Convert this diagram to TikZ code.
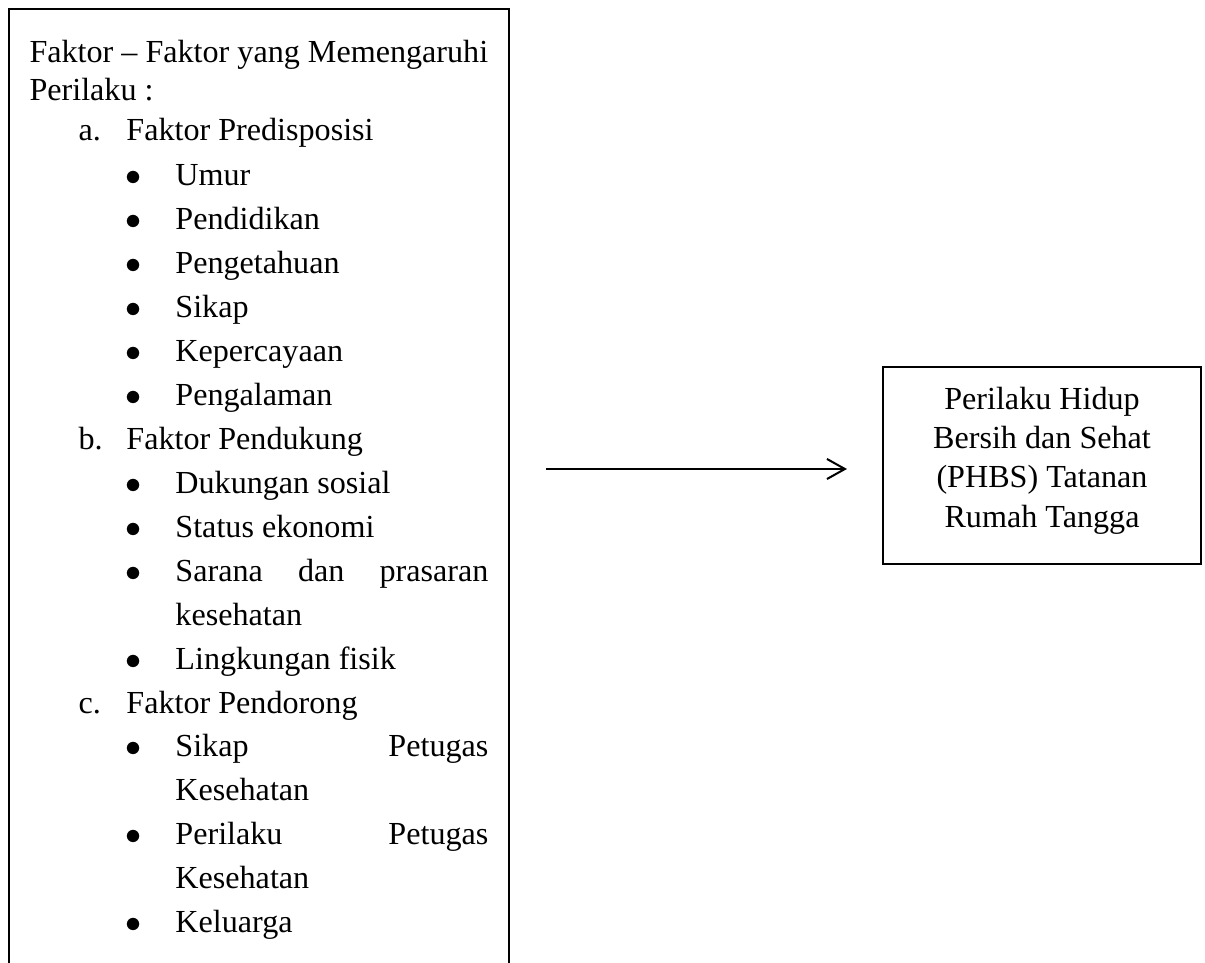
\documentclass[tikz,border=0pt]{standalone}
\usepackage{fontspec}
\setmainfont{Liberation Serif}
\usetikzlibrary{positioning, fit, arrows.meta, calc}

% list layout helpers
\newcommand{\subfaktor}[2]{\hspace*{18.3pt}\makebox[17.9pt][l]{#1}#2}
\newcommand{\butir}[1]{\hspace*{35.8pt}\makebox[6pt]{$\bullet$}\hspace*{12.7pt}#1}
\newcommand{\lanjut}[1]{\hspace*{54.5pt}#1}
\newcommand{\rata}[1]{\makebox[116.9pt][s]{#1}}

\begin{document}
\begin{tikzpicture}[
    x=0.3735pt,
    y=-0.3735pt,
    frame/.style={
        rectangle,
        draw,
        line width=0.65pt,
        inner sep=0pt
    },
    listtext/.style={
        text width=185pt,
        align=flush left,
        inner sep=0pt,
        font=\fontsize{12}{16.43}\selectfont
    },
    result/.style={
        rectangle,
        draw,
        line width=0.7pt,
        minimum width=118.8pt,
        minimum height=73.6pt,
        align=center,
        font=\fontsize{12}{14.7}\selectfont
    },
    arrow/.style={
        -{Straight Barb[length=6.7pt, width=7.5pt]},
        line width=0.75pt,
        shorten <=13.4pt,
        shorten >=13.1pt
    }
]

    \useasboundingbox (0,0) rectangle (1205,962);
    \clip (0,0) rectangle (1205,962);

    % Factors (box runs off the bottom)
    \node[frame, fit={(9,9) (509,1000)}] (panel) {};
    \node[listtext, anchor=base west] (factors) at (29,62) {%
        Faktor -- Faktor yang Memengaruhi\\[-2.2pt]
        Perilaku :\\[-1.5pt]
        \subfaktor{a.}{Faktor Predisposisi}\\[0.4pt]
        \butir{Umur}\\
        \butir{Pendidikan}\\
        \butir{Pengetahuan}\\
        \butir{Sikap}\\
        \butir{Kepercayaan}\\
        \butir{Pengalaman}\\
        \subfaktor{b.}{Faktor Pendukung}\\
        \butir{Dukungan sosial}\\
        \butir{Status ekonomi}\\
        \butir{\rata{Sarana dan prasaran}}\\
        \lanjut{kesehatan}\\
        \butir{Lingkungan fisik}\\
        \subfaktor{c.}{Faktor Pendorong}\\
        \butir{\rata{Sikap Petugas}}\\
        \lanjut{Kesehatan}\\
        \butir{\rata{Perilaku Petugas}}\\
        \lanjut{Kesehatan}\\
        \butir{Keluarga}};

    % Outcome
    \node[result] (phbs) at (1042,465.5) {Perilaku Hidup\\Bersih dan Sehat\\(PHBS) Tatanan\\Rumah Tangga\rule[-6.3pt]{0pt}{6.3pt}};

    % Connection
    \draw[arrow, transform canvas={yshift=-1.3pt}] (panel.east |- phbs.west) -- (phbs.west);

\end{tikzpicture}
\end{document}
